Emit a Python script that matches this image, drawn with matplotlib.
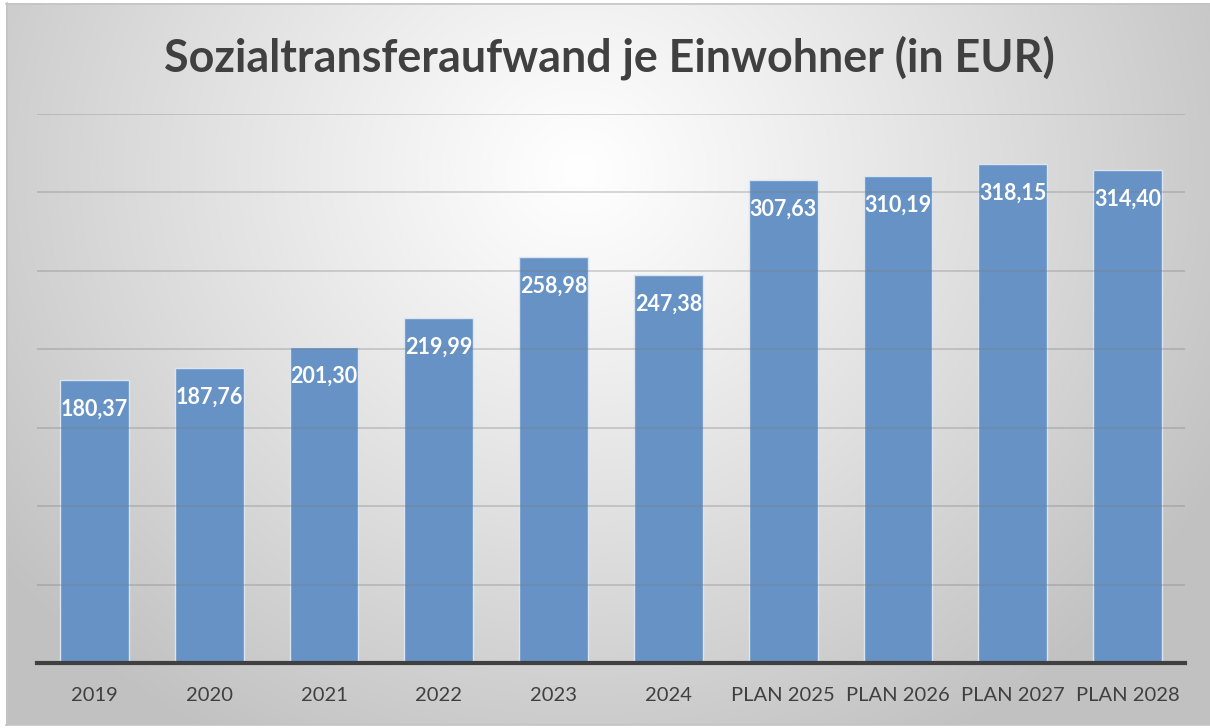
import matplotlib
matplotlib.use("Agg")
import matplotlib.pyplot as plt
import numpy as np

plt.rcParams["font.family"] = ["Lato", "DejaVu Sans"]

categories = ["2019", "2020", "2021", "2022", "2023", "2024",
              "PLAN 2025", "PLAN 2026", "PLAN 2027", "PLAN 2028"]
values = [180.37, 187.76, 201.30, 219.99, 258.98, 247.38,
          307.63, 310.19, 318.15, 314.40]
labels = ["180,37", "187,76", "201,30", "219,99", "258,98", "247,38",
          "307,63", "310,19", "318,15", "314,40"]

W, H = 1210, 728
fig = plt.figure(figsize=(W / 100, H / 100), dpi=100)

# ── background: radial grey gradient inside a light frame ──
bg = fig.add_axes([0, 0, 1, 1])
bg.set_xlim(0, W)
bg.set_ylim(H, 0)
bg.axis("off")
yy, xx = np.mgrid[0:H, 0:W]
d = np.hypot(xx - 580, (yy - 170) * 1.1)
shade = 1.0 - 0.24 * np.clip(d / 720, 0, 1) ** 1.1
img = np.dstack([shade] * 3)
bg.imshow(img[3:725, 6:W], extent=(6, W, 725, 3), interpolation="bilinear",
          aspect="auto", zorder=0)
bg.plot([6, W], [3.5, 3.5], color="#c4c4c4", lw=1.2, zorder=1)
bg.plot([6.5, 6.5], [3, 725], color="#c4c4c4", lw=1.2, zorder=1)
bg.plot([6, W], [725, 725], color="#c4c4c4", lw=1.2, zorder=1)

fig.text(0.504, 0.921, "Sozialtransferaufwand je Einwohner (in EUR)",
         ha="center", va="center", fontsize=32.3, fontweight="bold",
         color="#404040")

# ── bars ──
ax = fig.add_axes([37 / W, (H - 663) / H, (1185 - 37) / W, (663 - 114) / H])
ax.patch.set_alpha(0)
x = np.arange(len(categories))
ax.bar(x, values, width=0.6, color="#6692c6", edgecolor="#dbe5f1",
       linewidth=1, zorder=2)
for xi, v, lab in zip(x, values, labels):
    ax.annotate(lab, (xi, v), xytext=(0, -29), textcoords="offset pixels",
                ha="center", va="center", fontsize=15.5, fontweight="bold",
                color="white", zorder=4)

ax.set_xlim(-0.5, len(categories) - 0.5)
ax.set_ylim(0, 350)
ax.set_yticks(np.arange(50, 351, 50))
ax.yaxis.grid(True, color="#7a7a7a", alpha=0.35, linewidth=1.2, zorder=3)
ax.set_axisbelow(False)
ax.tick_params(axis="y", left=False, labelleft=False)
ax.tick_params(axis="x", bottom=False, pad=14, labelsize=14.5,
               labelcolor="#404040")
ax.set_xticks(x)
ax.set_xticklabels(categories)
for s in ("top", "right", "left"):
    ax.spines[s].set_visible(False)
ax.spines["bottom"].set_color("#404040")
ax.spines["bottom"].set_linewidth(3)
ax.spines["bottom"].set_zorder(5)

fig.savefig("out.png", dpi=100)
